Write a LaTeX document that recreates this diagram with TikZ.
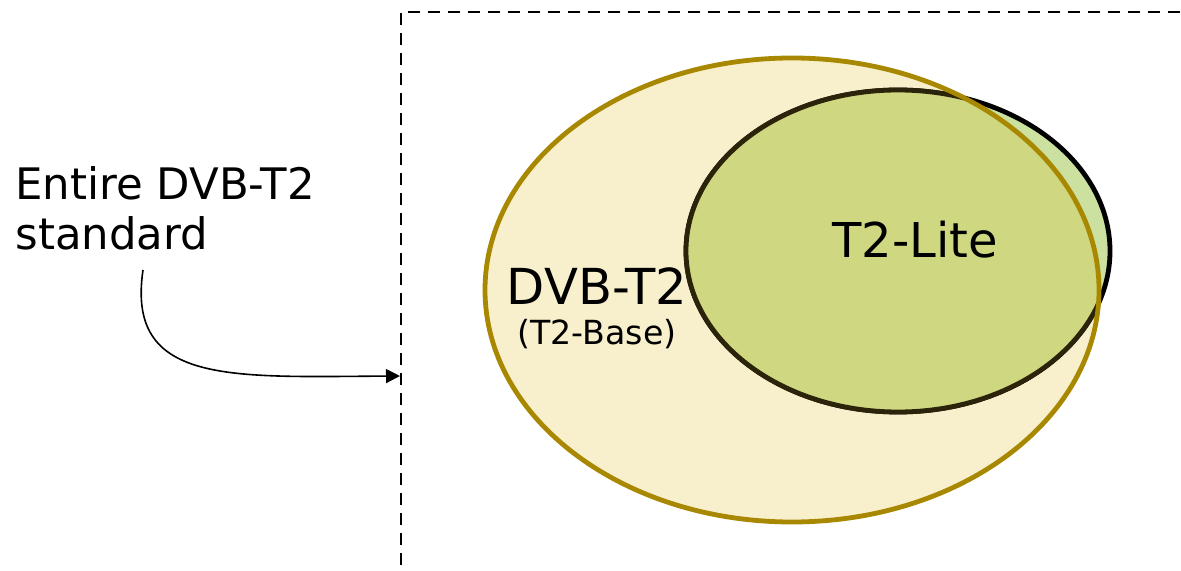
\documentclass[tikz,border=0pt]{standalone}
\usepackage{fontspec}
\setmainfont{DejaVu Sans}
\usetikzlibrary{arrows.meta}
\definecolor{baseyellow}{RGB}{248,240,204}
\definecolor{basegold}{RGB}{168,136,0}
\definecolor{litegreen}{RGB}{204,224,160}
\definecolor{litemix}{RGB}{207,216,128}
\definecolor{liteedge}{RGB}{43,36,10}
\begin{document}
\begin{tikzpicture}[x=0.5pt, y=-0.5pt,
    txt/.style={inner sep=0pt, anchor=base},
    ring/.style={line width=2.4pt}]
    \useasboundingbox (0,0) rectangle (1181,571);
    % dashed frame of the whole standard
    \draw[line width=1.2pt, dash pattern=on 6pt off 4pt] (401,565) -- (401,12) -- (1181,12);
    % base profile
    \fill[baseyellow] (792,290) ellipse [x radius=307, y radius=232];
    % lite profile, lighter where it sticks out of the base
    \fill[litegreen] (898,251) ellipse [x radius=212, y radius=161];
    \draw[ring, black] (898,251) ellipse [x radius=212, y radius=161];
    \begin{scope}
        \clip (792,290) ellipse [x radius=307, y radius=232];
        \fill[litemix] (898,251) ellipse [x radius=212, y radius=161];
        \draw[ring, liteedge] (898,251) ellipse [x radius=212, y radius=161];
    \end{scope}
    \draw[ring, basegold] (792,290) ellipse [x radius=307, y radius=232];
    % labels
    \node[txt, font=\fontsize{24}{28}\selectfont] (lite) at (915,258) {T2-Lite};
    \node[txt, font=\fontsize{24.8}{28}\selectfont] (base) at (597,305) {DVB-T2};
    \node[txt, font=\fontsize{16.6}{20}\selectfont] (basesub) at (597,344) {(T2-Base)};
    \node[txt, anchor=base west, font=\fontsize{21.7}{25}\selectfont] (entire) at (15,200) {Entire DVB-T2};
    \node[txt, anchor=base west, font=\fontsize{21.7}{25}\selectfont] (standard) at (15,250) {standard};
    % pointer onto the frame
    \coordinate (src) at (143,270);
    \coordinate (dst) at (400,376);
    \draw[line width=0.8pt, -{Triangle[length=7pt, width=7pt]}] (src) .. controls (126,385) and (230,377) .. (dst);
\end{tikzpicture}
\end{document}
